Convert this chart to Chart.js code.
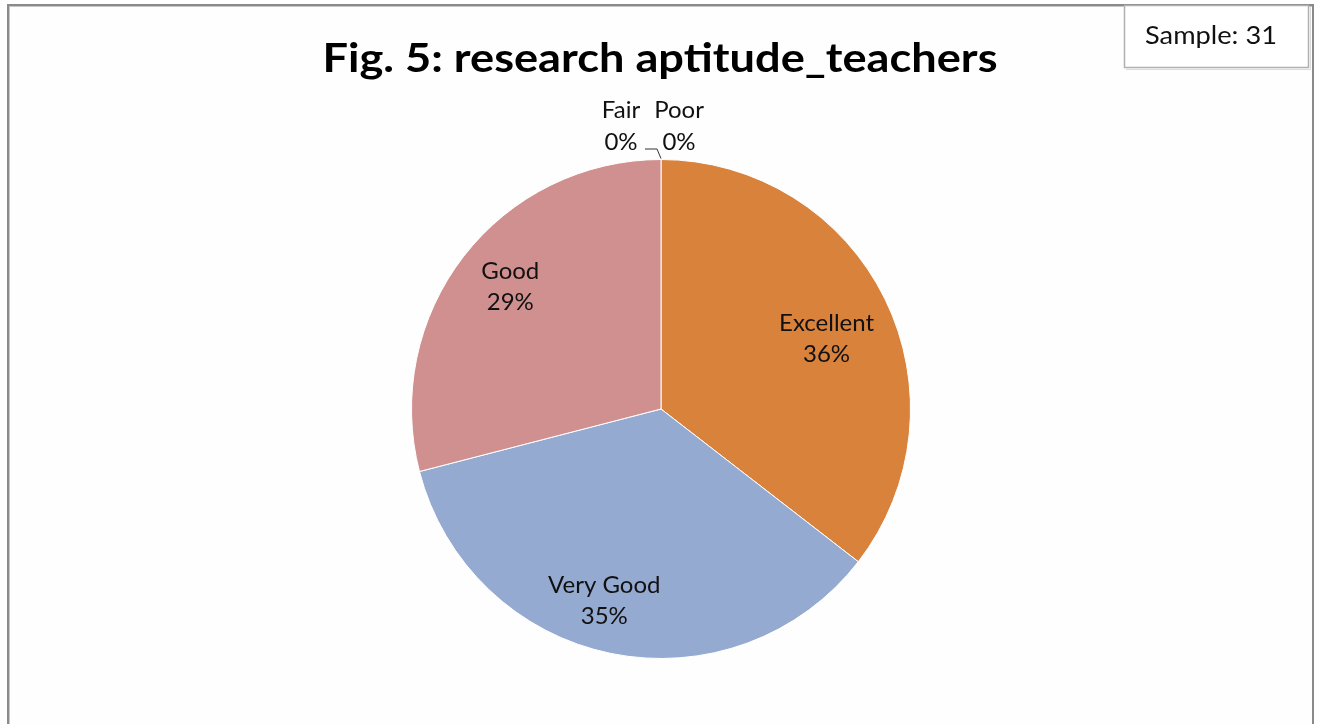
<!DOCTYPE html>
<html>
<head>
<meta charset="utf-8">
<script src="https://cdn.jsdelivr.net/npm/chart.js@4/dist/chart.umd.min.js"></script>
<style>
  html, body { margin: 0; padding: 0; background: #fff; }
  #wrap { position: relative; width: 1317px; height: 724px; overflow: hidden; background: #fff; }
  #frame { position: absolute; left: 7px; top: 4px; width: 1303px; height: 760px; border: 2px solid #8a8a8a; box-shadow: inset 1px 1px 0 #c8c8c8; background: #fefefe; }
  canvas { position: absolute; left: 0; top: 0; }
</style>
</head>
<body>
<div id="wrap">
  <div id="frame"></div>
  <canvas id="c" width="1317" height="724"></canvas>
</div>
<script>
const categories = ["Excellent", "Very Good", "Good", "Fair", "Poor"];
const counts = [11, 11, 9, 0, 0];
const percentLabels = ["36%", "35%", "29%", "0%", "0%"];
const colors = ["#D9823C", "#95AAD1", "#D19090", "#9BBB59", "#8064A2"];
const titleText = "Fig. 5: research aptitude_teachers";
const sampleText = "Sample: 31";

const labelRadiusFrac = [0.722, 0.80, 0.78];
const labelAngleShiftDeg = [2.9, 4.9, 1.5];
const FONT = "Lato, 'Open Sans', 'DejaVu Sans', sans-serif";

function fitText(ctx, text, cx, cy, targetW) {
  const w = ctx.measureText(text).width;
  ctx.save();
  ctx.translate(cx, cy);
  ctx.scale(targetW / w, 1);
  ctx.fillText(text, 0, 0);
  ctx.restore();
}

const decor = {
  id: 'decor',
  afterDraw(chart) {
    const ctx = chart.ctx;
    ctx.save();
    // title
    ctx.fillStyle = '#000';
    ctx.textAlign = 'center';
    ctx.textBaseline = 'middle';
    ctx.font = "bold 40px " + FONT;
    fitText(ctx, titleText, 660, 59, 675);

    // sample box
    ctx.fillStyle = '#fff';
    ctx.fillRect(1124, 5, 185, 63);
    ctx.strokeStyle = '#b0b0b0';
    ctx.lineWidth = 1.5;
    ctx.strokeRect(1124.5, 5.5, 184, 62);
    ctx.strokeStyle = '#dcdcdc';
    ctx.lineWidth = 1;
    ctx.beginPath();
    ctx.moveTo(1126, 69.5); ctx.lineTo(1310.5, 69.5); ctx.lineTo(1310.5, 7);
    ctx.stroke();
    ctx.fillStyle = '#111';
    ctx.font = "25px " + FONT;
    fitText(ctx, sampleText, 1211, 36, 132);

    // data labels
    const meta = chart.getDatasetMeta(0);
    ctx.font = "24px " + FONT;
    ctx.fillStyle = '#111';
    let zeroIdx = 0;
    meta.data.forEach((arc, i) => {
      const {x, y, startAngle, endAngle, outerRadius} = arc.getProps(['x','y','startAngle','endAngle','outerRadius'], true);
      if (counts[i] > 0) {
        const mid = (startAngle + endAngle) / 2 + labelAngleShiftDeg[i] * Math.PI / 180;
        const r = outerRadius * labelRadiusFrac[i];
        const lx = x + Math.cos(mid) * r;
        const ly = y + Math.sin(mid) * r;
        ctx.fillText(categories[i], lx, ly - 15);
        ctx.fillText(percentLabels[i], lx, ly + 16);
      } else {
        const topY = y - outerRadius;
        const lx = zeroIdx === 0 ? x - 40 : x + 18;
        ctx.fillText(categories[i], lx, topY - 49);
        ctx.fillText(percentLabels[i], lx, topY - 17);
        if (zeroIdx === 0) {
          ctx.strokeStyle = '#333';
          ctx.lineWidth = 1;
          ctx.beginPath();
          ctx.moveTo(x - 16, topY - 10.5);
          ctx.lineTo(x - 4, topY - 10.5);
          ctx.lineTo(x, topY - 1);
          ctx.stroke();
        }
        zeroIdx++;
      }
    });
    ctx.restore();
  }
};

new Chart(document.getElementById('c'), {
  type: 'pie',
  data: {
    labels: categories,
    datasets: [{
      data: counts,
      backgroundColor: colors,
      borderColor: '#ffffff',
      borderWidth: 1
    }]
  },
  options: {
    responsive: false,
    animation: false,
    layout: { padding: { top: 159, bottom: 65, left: 5, right: 0 } },
    plugins: {
      legend: { display: false },
      tooltip: { enabled: false },
      title: { display: false }
    }
  },
  plugins: [decor]
});
</script>
</body>
</html>
